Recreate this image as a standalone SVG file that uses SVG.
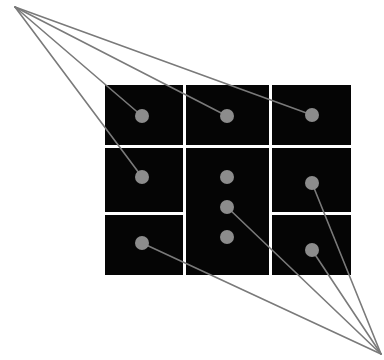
<svg xmlns="http://www.w3.org/2000/svg" width="384" height="360" viewBox="0 0 384 360">
<style>
.cell{fill:#050505}
.dot{fill:#8c8c8c}
.ln{stroke:#7a7a7a;stroke-width:1.6;fill:none;stroke-linecap:round}
</style>
<rect width="384" height="360" fill="#ffffff"/>
<g id="grid">
<rect x="104" y="85" width="247" height="190" fill="#ffffff"/>
</g>
<g id="cell-r1c1"><rect class="cell" x="105" y="85" width="78" height="60"/></g>
<g id="cell-r1c2"><rect class="cell" x="186" y="85" width="83" height="60"/></g>
<g id="cell-r1c3"><rect class="cell" x="272" y="85" width="79" height="60"/></g>
<g id="cell-r2c1"><rect class="cell" x="105" y="148" width="78" height="64"/></g>
<g id="cell-mid"><rect class="cell" x="186" y="148" width="83" height="127"/></g>
<g id="cell-r2c3"><rect class="cell" x="272" y="148" width="79" height="64"/></g>
<g id="cell-r3c1"><rect class="cell" x="105" y="215" width="78" height="60"/></g>
<g id="cell-r3c3"><rect class="cell" x="272" y="215" width="79" height="60"/></g>
<g id="connectors">
<line class="ln" x1="15" y1="7" x2="142" y2="116"/>
<line class="ln" x1="15" y1="7" x2="227" y2="116"/>
<line class="ln" x1="15" y1="7" x2="312" y2="115"/>
<line class="ln" x1="15" y1="7" x2="142" y2="177"/>
<line class="ln" x1="381" y1="354" x2="142" y2="243"/>
<line class="ln" x1="381" y1="354" x2="227" y2="207"/>
<line class="ln" x1="381" y1="354" x2="312" y2="250"/>
<line class="ln" x1="381" y1="354" x2="312" y2="183"/>
</g>
<g id="dots">
<circle class="dot" cx="142" cy="116" r="7"/>
<circle class="dot" cx="227" cy="116" r="7"/>
<circle class="dot" cx="312" cy="115" r="7"/>
<circle class="dot" cx="142" cy="177" r="7"/>
<circle class="dot" cx="227" cy="177" r="7"/>
<circle class="dot" cx="227" cy="207" r="7"/>
<circle class="dot" cx="227" cy="237" r="7"/>
<circle class="dot" cx="312" cy="183" r="7"/>
<circle class="dot" cx="142" cy="243" r="7"/>
<circle class="dot" cx="312" cy="250" r="7"/>
</g>
</svg>
